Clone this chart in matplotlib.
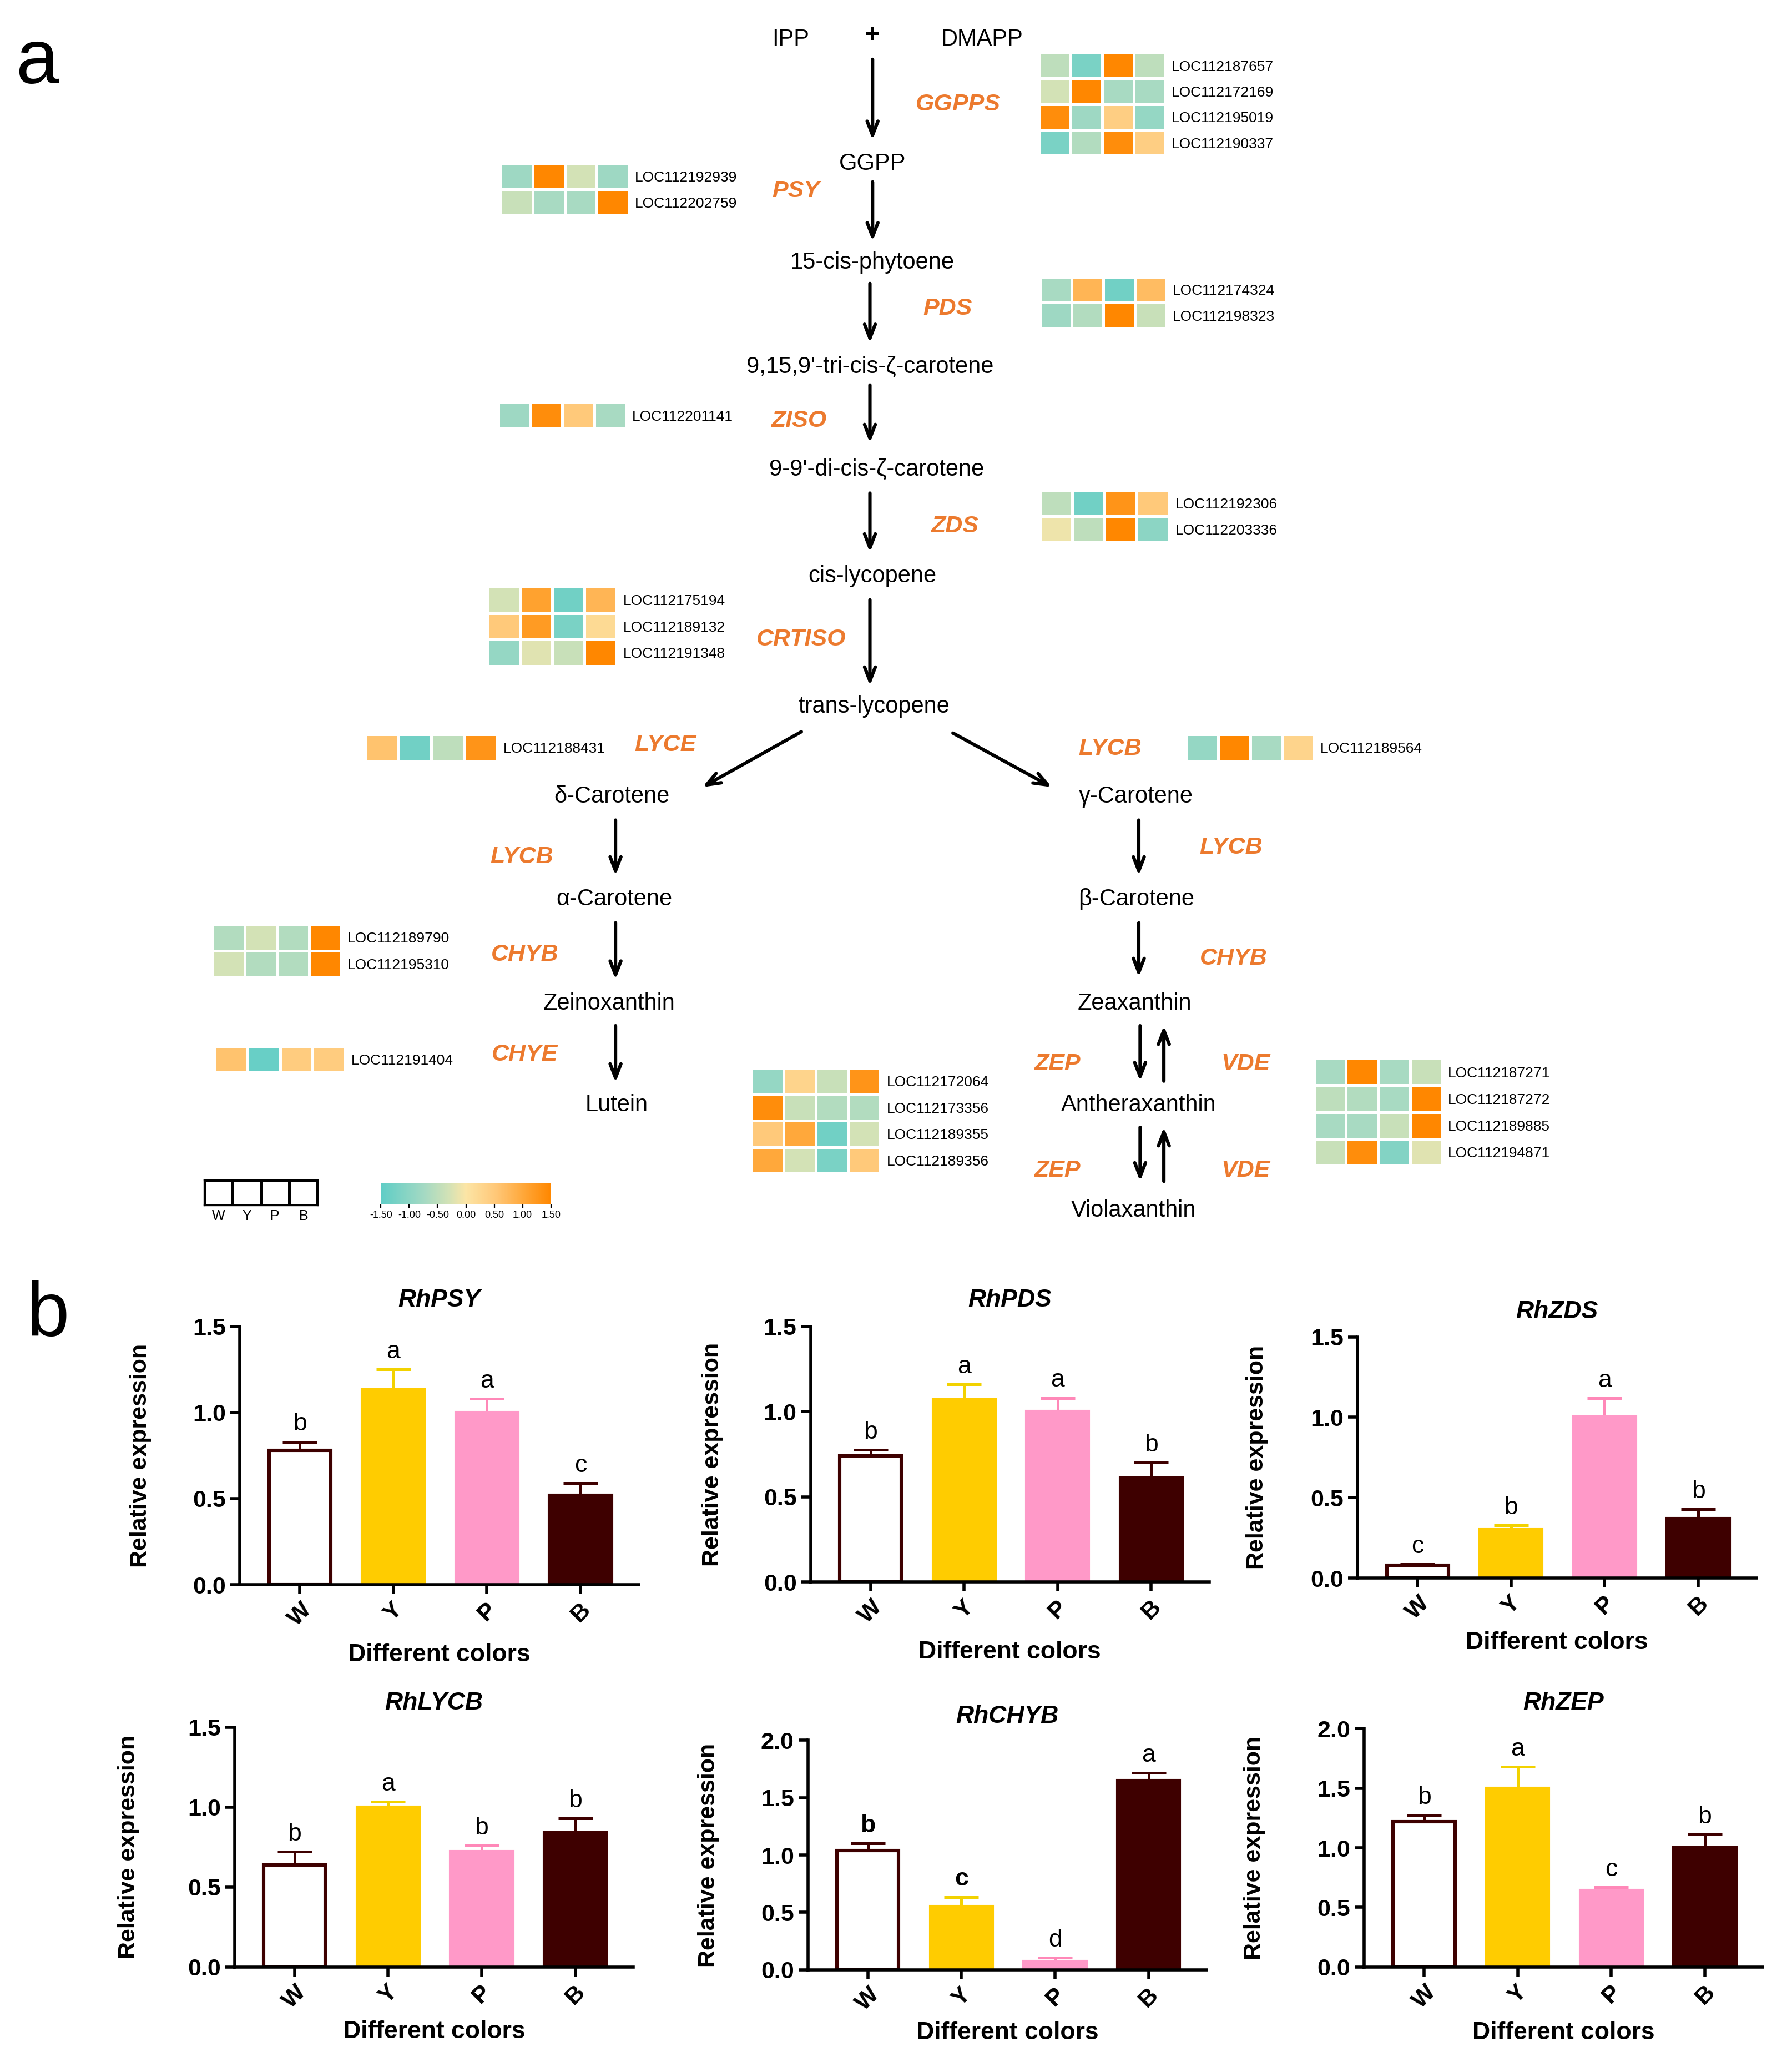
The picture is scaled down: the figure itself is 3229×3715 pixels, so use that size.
import numpy as np
import matplotlib
matplotlib.use('Agg')
import matplotlib.pyplot as plt
from matplotlib.colors import LinearSegmentedColormap, Normalize, ListedColormap
from matplotlib.cm import ScalarMappable

plt.rcParams['font.family'] = ['Liberation Sans', 'DejaVu Sans']

# ---------------- data ----------------
samples = ['W', 'Y', 'P', 'B']

# heatmaps (z-scores, columns W Y P B)
ggpps_genes = ['LOC112187657', 'LOC112172169', 'LOC112195019', 'LOC112190337']
ggpps_vals = [[-0.5, -1.2, 1.5, -0.5], [-0.3, 1.5, -0.7, -0.7], [1.4, -0.8, 0.4, -0.9], [-1.2, -0.6, 1.4, 0.4]]
psy_genes = ['LOC112192939', 'LOC112202759']
psy_vals = [[-0.8, 1.5, -0.3, -0.8], [-0.4, -0.7, -0.7, 1.5]]
pds_genes = ['LOC112174324', 'LOC112198323']
pds_vals = [[-0.7, 0.8, -1.3, 0.7], [-0.8, -0.6, 1.5, -0.4]]
ziso_genes = ['LOC112201141']
ziso_vals = [[-0.8, 1.4, 0.5, -0.7]]
zds_genes = ['LOC112192306', 'LOC112203336']
zds_vals = [[-0.5, -1.3, 1.3, 0.5], [-0.1, -0.5, 1.5, -1.0]]
crtiso_genes = ['LOC112175194', 'LOC112189132', 'LOC112191348']
crtiso_vals = [[-0.3, 1.1, -1.3, 0.8], [0.5, 1.2, -1.2, 0.2], [-0.9, -0.2, -0.4, 1.5]]
lyce_genes = ['LOC112188431']
lyce_vals = [[0.6, -1.3, -0.5, 1.3]]
lycb_genes = ['LOC112189564']
lycb_vals = [[-0.9, 1.5, -0.7, 0.3]]
chyb_genes = ['LOC112189790', 'LOC112195310']
chyb_vals = [[-0.6, -0.3, -0.6, 1.5], [-0.3, -0.6, -0.6, 1.5]]
chye_genes = ['LOC112191404']
chye_vals = [[0.6, -1.4, 0.45, 0.45]]
zep_genes = ['LOC112172064', 'LOC112173356', 'LOC112189355', 'LOC112189356']
zep_vals = [[-0.9, 0.3, -0.4, 1.3], [1.4, -0.4, -0.6, -0.6], [0.5, 1.0, -1.3, -0.3], [1.0, -0.3, -1.2, 0.5]]
vde_genes = ['LOC112187271', 'LOC112187272', 'LOC112189885', 'LOC112194871']
vde_vals = [[-0.7, 1.5, -0.7, -0.4], [-0.5, -0.6, -0.7, 1.5], [-0.7, -0.7, -0.4, 1.5], [-0.4, 1.4, -1.1, -0.2]]
cbar_ticks = [-1.5, -1.0, -0.5, 0.0, 0.5, 1.0, 1.5]

# qRT-PCR bars
genes_b = ['RhPSY', 'RhPDS', 'RhZDS', 'RhLYCB', 'RhCHYB', 'RhZEP']
psy_mean = [0.78, 1.13, 1.00, 0.52]
psy_err = [0.05, 0.12, 0.08, 0.07]
psy_sig = ['b', 'a', 'a', 'c']
pds_mean = [0.74, 1.07, 1.00, 0.61]
pds_err = [0.035, 0.09, 0.08, 0.09]
pds_sig = ['b', 'a', 'a', 'b']
zds_mean = [0.08, 0.30, 1.00, 0.37]
zds_err = [0.008, 0.03, 0.12, 0.06]
zds_sig = ['c', 'b', 'a', 'b']
lycb_mean = [0.64, 1.00, 0.72, 0.84]
lycb_err = [0.08, 0.035, 0.04, 0.09]
lycb_sig = ['b', 'a', 'b', 'b']
chybq_mean = [1.04, 0.55, 0.07, 1.65]
chybq_err = [0.06, 0.085, 0.035, 0.065]
chybq_sig = ['b', 'c', 'd', 'a']
zepq_mean = [1.22, 1.50, 0.64, 1.00]
zepq_err = [0.055, 0.18, 0.03, 0.11]
zepq_sig = ['b', 'a', 'c', 'b']

# ---------------- style / layout ----------------
W_D, H_D = 1360.0, 1564.0
def fx(x): return x / W_D
def fy(y): return 1 - y / H_D

ORANGE = '#EC7A2E'
cmap = LinearSegmentedColormap.from_list('hm', [(0.0, '#5FCDC6'), (0.25, '#A3D9C3'), (0.40, '#D3E2B6'),
                                               (0.5, '#FCE5A6'), (0.68, '#FFC777'), (0.85, '#FFA535'),
                                               (1.0, '#FF8700')])
norm = Normalize(-1.5, 1.5)

fig = plt.figure(figsize=(16.15, 18.575), dpi=200)
ax0 = fig.add_axes([0, 0, 1, 1])
ax0.set_xlim(0, W_D); ax0.set_ylim(H_D, 0); ax0.axis('off')

ax0.text(28, 48, 'a', fontsize=50, ha='center', va='center')
ax0.text(36, 998, 'b', fontsize=50, ha='center', va='center')

compounds = [('IPP', 600, 30), ('DMAPP', 745, 30), ('GGPP', 662, 124), ('15-cis-phytoene', 662, 199),
             ("9,15,9'-tri-cis-ζ-carotene", 660, 278), ("9-9'-di-cis-ζ-carotene", 665, 356),
             ('cis-lycopene', 662, 437), ('trans-lycopene', 663, 536), ('δ-Carotene', 464, 604),
             ('γ-Carotene', 862, 604), ('α-Carotene', 466, 682), ('β-Carotene', 862, 682),
             ('Zeinoxanthin', 462, 761), ('Zeaxanthin', 861, 761), ('Lutein', 468, 838),
             ('Antheraxanthin', 864, 838), ('Violaxanthin', 860, 918)]
for t, x, y in compounds:
    ax0.text(x, y, t, fontsize=15, ha='center', va='center')
ax0.text(662, 27, '+', fontsize=17, fontweight='bold', ha='center', va='center')

enzymes = [('GGPPS', 727, 79), ('PSY', 604, 145), ('PDS', 719, 234), ('ZISO', 606, 319), ('ZDS', 724, 399),
           ('CRTISO', 608, 485), ('LYCE', 505, 565), ('LYCB', 842, 568), ('LYCB', 396, 650), ('LYCB', 934, 643),
           ('CHYB', 398, 724), ('CHYB', 936, 727), ('CHYE', 398, 800), ('ZEP', 802, 807), ('VDE', 945, 807),
           ('ZEP', 802, 888), ('VDE', 945, 888)]
for t, x, y in enzymes:
    ax0.text(x, y, t, fontsize=15.5, fontweight='bold', fontstyle='italic', color=ORANGE, ha='center', va='center')

arrows = [(662, 45, 662, 106), (662, 138, 662, 183), (660, 215, 660, 260), (660, 292, 660, 336),
          (660, 374, 660, 419), (660, 455, 660, 520), (608, 555, 533, 597), (723, 556, 798, 597),
          (467, 622, 467, 664), (864, 622, 864, 664), (467, 700, 467, 743), (864, 700, 864, 741),
          (467, 778, 467, 821), (865, 778, 865, 820), (883, 820, 883, 778),
          (865, 855, 865, 896), (883, 896, 883, 855)]
for x1, y1, x2, y2 in arrows:
    ax0.annotate('', xy=(x2, y2), xytext=(x1, y1),
                 arrowprops=dict(arrowstyle='->,head_length=0.9,head_width=0.35', lw=2.2, color='black',
                                 shrinkA=0, shrinkB=0))

heatmaps = [(ggpps_genes, ggpps_vals, 788, 884, 40, 118), (psy_genes, psy_vals, 380, 477, 124, 163),
            (pds_genes, pds_vals, 789, 885, 210, 249), (ziso_genes, ziso_vals, 378, 475, 305, 325),
            (zds_genes, zds_vals, 789, 887, 372, 411), (crtiso_genes, crtiso_vals, 370, 468, 445, 505),
            (lyce_genes, lyce_vals, 277, 377, 557, 577), (lycb_genes, lycb_vals, 900, 997, 557, 577),
            (chyb_genes, chyb_vals, 161, 259, 701, 741), (chye_genes, chye_vals, 163, 262, 794, 813),
            (zep_genes, zep_vals, 570, 668, 810, 890), (vde_genes, vde_vals, 997, 1094, 803, 884)]
for genes, vals, x0, x1, y0, y1 in heatmaps:
    ax = fig.add_axes([fx(x0), fy(y1), fx(x1) - fx(x0), fy(y0) - fy(y1)])
    v = np.array(vals)
    ax.pcolormesh(v, cmap=cmap, norm=norm, edgecolors='white', linewidth=1.2)
    ax.set_ylim(len(genes), 0); ax.set_xlim(0, 4)
    ax.set_yticks(np.arange(len(genes)) + 0.5)
    ax.set_yticklabels(genes, fontsize=9.5)
    ax.yaxis.tick_right()
    ax.tick_params(length=0, pad=4)
    ax.set_xticks([])
    for s in ax.spines.values():
        s.set_visible(False)

# sample legend boxes
axl = fig.add_axes([fx(155), fy(914), fx(241) - fx(155), fy(895) - fy(914)])
axl.pcolormesh(np.zeros((1, 4)), cmap=ListedColormap(['white']), edgecolors='black', linewidth=1.2)
axl.set_xlim(0, 4); axl.set_ylim(0, 1)
axl.set_xticks(np.arange(4) + 0.5); axl.set_xticklabels(samples, fontsize=9)
axl.set_yticks([]); axl.tick_params(length=0, pad=3)
for s in axl.spines.values():
    s.set_linewidth(1.2)

cax = fig.add_axes([fx(289), fy(913), fx(418) - fx(289), fy(897) - fy(913)])
cb = fig.colorbar(ScalarMappable(norm=norm, cmap=cmap), cax=cax, orientation='horizontal', ticks=cbar_ticks)
cb.outline.set_visible(False)
cb.ax.set_xticklabels(['%.2f' % t for t in cbar_ticks], fontsize=6.5)
cb.ax.tick_params(length=3, width=0.8, pad=1.5)

# ---------------- panel b ----------------
bar_fc = ['white', '#FFCC00', '#FF99C8', '#3E0000']
bar_ec = ['#3E0000', '#FFCC00', '#FF99C8', '#3E0000']
err_c = ['#3E0000', '#F2D200', '#FF88B8', '#3E0000']

panels = [
    (psy_mean, psy_err, psy_sig, 1.5, 182, 1202, 1006, 986, 106, 1255),
    (pds_mean, pds_err, pds_sig, 1.5, 615, 1200, 1006, 986, 540, 1253),
    (zds_mean, zds_err, zds_sig, 1.5, 1030, 1197, 1014, 995, 953, 1246),
    (lycb_mean, lycb_err, lycb_sig, 1.5, 178, 1492, 1310, 1292, 97, 1541),
    (chybq_mean, chybq_err, chybq_sig, 2.0, 613, 1494, 1320, 1302, 537, 1542),
    (zepq_mean, zepq_err, zepq_sig, 2.0, 1035, 1492, 1311, 1292, 951, 1542),
]
spacing = 71.0
xl = (-0.64, 3.62)
for name, (m, e, sig, ymax, axx, y0, ytop, ty, ylx, xly) in zip(genes_b, panels):
    width_d = (xl[1] - xl[0]) * spacing
    ax = fig.add_axes([fx(axx), fy(y0), width_d / W_D, fy(ytop) - fy(y0)])
    x = np.arange(4)
    ax.bar(x, m, width=0.66, color=bar_fc, edgecolor=bar_ec, linewidth=2.2, zorder=2)
    for i in range(4):
        ax.errorbar(x[i], m[i], yerr=[[0], [e[i]]], fmt='none', ecolor=err_c[i], elinewidth=1.8,
                    capsize=11, capthick=1.8, zorder=1)
        bold = 'bold' if (name == 'RhCHYB' and sig[i] in 'bc') else 'normal'
        ax.annotate(sig[i], (x[i], m[i] + e[i]), xytext=(0, 4), textcoords='offset points',
                    ha='center', va='bottom', fontsize=16, fontweight=bold)
    ax.set_xlim(*xl)
    ax.set_ylim(0, ymax)
    ax.set_yticks(np.arange(0, ymax + 0.01, 0.5))
    ax.set_yticklabels(['%.1f' % t for t in np.arange(0, ymax + 0.01, 0.5)], fontsize=15.5, fontweight='bold')
    ax.set_xticks(x)
    ax.set_xticklabels(samples, rotation=45, fontsize=15.5, fontweight='bold', ha='center')
    ax.spines['top'].set_visible(False); ax.spines['right'].set_visible(False)
    ax.spines['left'].set_linewidth(2); ax.spines['bottom'].set_linewidth(2)
    ax.tick_params(width=2, length=6, pad=3)
    ax.set_ylabel('Relative expression', fontsize=15.5, fontweight='bold')
    ax.yaxis.set_label_coords(-(axx - ylx - 9) / width_d, 0.5)
    fig.text(fx(axx + width_d / 2), fy(ty), name, fontsize=16, fontweight='bold', fontstyle='italic',
             ha='center', va='center')
    fig.text(fx(axx + width_d / 2), fy(xly), 'Different colors', fontsize=16, fontweight='bold',
             ha='center', va='center')

fig.savefig('out.png', dpi=200)
